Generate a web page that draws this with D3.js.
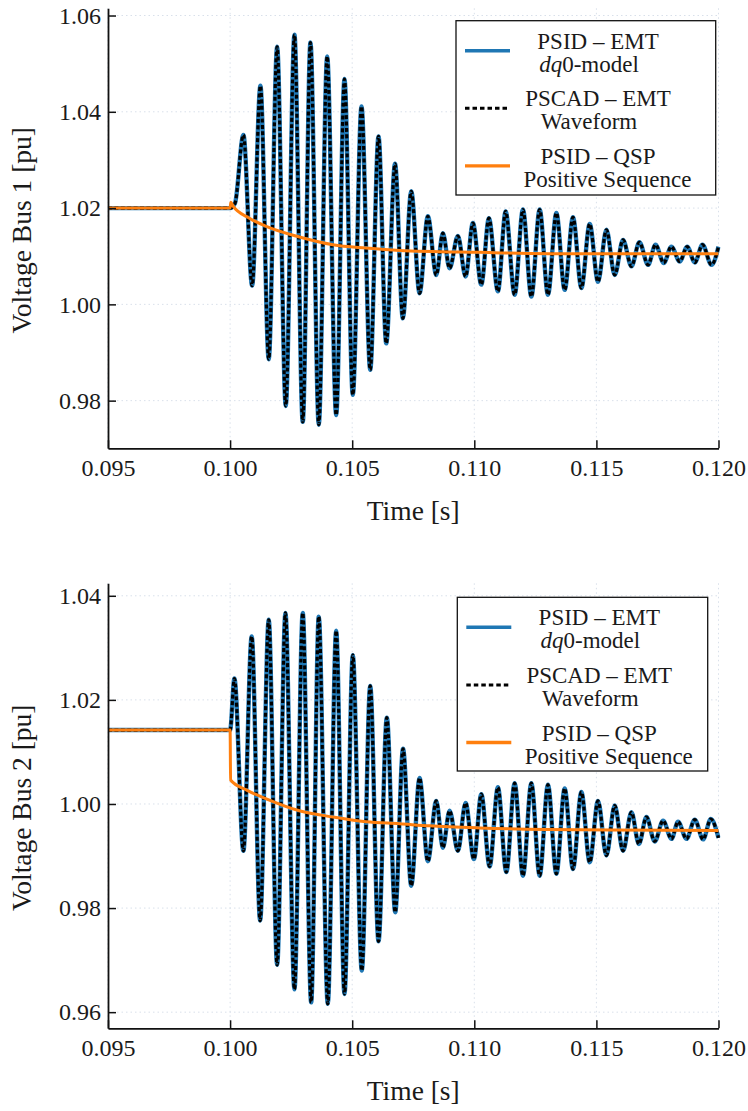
<!DOCTYPE html>
<html>
<head>
<meta charset="utf-8">
<script src="https://cdn.jsdelivr.net/npm/d3@7"></script>
<style>
    body { margin: 0; background: #fff; }
    svg { font-family: "Liberation Serif", "Times New Roman", serif; }
    .grid line { stroke: #d9e0ea; stroke-width: 1; stroke-dasharray: 1.5 3; }
    .axis path { stroke-width: 1.8; }
    .axis line { stroke-width: 1.5; }
    .axis text { font-family: "Liberation Serif", "Times New Roman", serif; font-size: 24px; fill: #1a1a1a; }
    .title { font-size: 27.5px; fill: #1a1a1a; }
    .legend text { font-size: 23px; fill: #1a1a1a; }
</style>
</head>
<body>
<div class="chart"></div>
<script>
var timeTicks = [0.095, 0.100, 0.105, 0.110, 0.115, 0.120]
var timeLimits = [0.095, 0.120]

var bus1Ticks = [0.98, 1.00, 1.02, 1.04, 1.06]
var bus1Limits = [0.9701, 1.0615]
var bus2Ticks = [0.96, 0.98, 1.00, 1.02, 1.04]
var bus2Limits = [0.9569, 1.0424]

// EMT waveform, read at every peak and trough (s, pu)
var bus1EmtTime = [0.09500, 0.10000, 0.10020,
    0.100545, 0.100902, 0.101242, 0.101582, 0.101926, 0.102279, 0.102635, 0.102975,
    0.103291, 0.103631, 0.103975, 0.104344, 0.104684, 0.105025, 0.105381, 0.105738,
    0.106078, 0.106393, 0.106754, 0.107074, 0.107418, 0.107758, 0.108098, 0.108443,
    0.108713, 0.108988, 0.109328, 0.109643, 0.109943, 0.110287, 0.110598, 0.110967,
    0.111283, 0.111652, 0.111992, 0.112336, 0.112676, 0.113016, 0.113361, 0.113701,
    0.114041, 0.114385, 0.114725, 0.115066, 0.115410, 0.115750, 0.116090, 0.116434,
    0.116760, 0.117115, 0.117420, 0.117760, 0.118070, 0.118414, 0.118720, 0.119029,
    0.119344, 0.119713, 0.120000]
var bus1EmtValue = [1.0200, 1.0200, 1.0210,
    1.0352, 1.0039, 1.0454, 0.9886, 1.0535, 0.9789, 1.0560, 0.9756,
    1.0544, 0.9750, 1.0515, 0.9770, 1.0468, 0.9812, 1.0411, 0.9864,
    1.0349, 0.9919, 1.0292, 0.9971, 1.0235, 1.0023, 1.0183, 1.0061,
    1.0148, 1.0075, 1.0142, 1.0058, 1.0169, 1.0041, 1.0179, 1.0027,
    1.0193, 1.0020, 1.0197, 1.0016, 1.0197, 1.0020, 1.0190, 1.0030,
    1.0181, 1.0034, 1.0167, 1.0047, 1.0155, 1.0061, 1.0134, 1.0079,
    1.0129, 1.0082, 1.0124, 1.0086, 1.0120, 1.0089, 1.0120, 1.0087,
    1.0124, 1.0082, 1.0120]

var bus1QspTime = [0.09500, 0.10000, 0.10003, 0.10011, 0.10079, 0.10148, 0.10284,
    0.10421, 0.10557, 0.10694, 0.11022, 0.11432, 0.12000]
var bus1QspValue = [1.0200, 1.0200, 1.0212, 1.0205, 1.0179, 1.0162, 1.0140,
    1.0124, 1.0117, 1.0112, 1.0108, 1.0105, 1.0105]

var bus2EmtTime = [0.09500, 0.10000,
    0.100176, 0.100545, 0.100885, 0.101230, 0.101582, 0.101926, 0.102266, 0.102635,
    0.102975, 0.103320, 0.103631, 0.104000, 0.104344, 0.104684, 0.105025, 0.105393,
    0.105738, 0.106078, 0.106418, 0.106762, 0.107082, 0.107418, 0.107758, 0.108098,
    0.108443, 0.108713, 0.108988, 0.109328, 0.109643, 0.109984, 0.110287, 0.110627,
    0.110967, 0.111311, 0.111652, 0.111992, 0.112336, 0.112676, 0.113016, 0.113361,
    0.113701, 0.114041, 0.114385, 0.114725, 0.115066, 0.115410, 0.115750, 0.116090,
    0.116434, 0.116740, 0.117049, 0.117389, 0.117730, 0.118074, 0.118344, 0.118689,
    0.119029, 0.119369, 0.119684, 0.120000]
var bus2EmtValue = [1.0142, 1.0142,
    1.0241, 0.9910, 1.0322, 0.9776, 1.0354, 0.9691, 1.0367, 0.9644,
    1.0367, 0.9619, 1.0360, 0.9616, 1.0333, 0.9635, 1.0286, 0.9680,
    1.0227, 0.9736, 1.0166, 0.9792, 1.0106, 0.9843, 1.0050, 0.9890,
    1.0006, 0.9916, 0.9987, 0.9910, 1.0002, 0.9894, 1.0019, 0.9880,
    1.0032, 0.9869, 1.0040, 0.9862, 1.0040, 0.9862, 1.0037, 0.9866,
    1.0030, 0.9875, 1.0023, 0.9888, 1.0006, 0.9901, 0.9997, 0.9910,
    0.9984, 0.9923, 0.9975, 0.9928, 0.9968, 0.9933, 0.9966, 0.9933,
    0.9970, 0.9932, 0.9971, 0.9935]

var bus2QspTime = [0.09500, 0.10000, 0.10002, 0.10066, 0.10148, 0.10284, 0.10421,
    0.10557, 0.10694, 0.10817, 0.11022, 0.11295, 0.11567, 0.12000]
var bus2QspValue = [1.0142, 1.0142, 1.0046, 1.0027, 1.0010, 0.9987, 0.9975,
    0.9966, 0.9962, 0.9958, 0.9954, 0.9951, 0.9950, 0.9949]

var seriesNames = ["PSID – EMT", "PSCAD – EMT", "PSID – QSP"]
var seriesNotes = ["dq0-model", "Waveform", "Positive Sequence"]
var seriesColors = ["#1f77b4", "#000000", "#ff7f0e"]
var yTitles = ["Voltage Bus 1 [pu]", "Voltage Bus 2 [pu]"]
var xTitle = "Time [s]"


!function(){

    var width = 748, height = 1111
    var left = 108, right = 718.5

    var svg = d3.select(".chart").append("svg")
        .attr("width", width)
        .attr("height", height)

    var panels = [
        { top: 8.3, bottom: 448.3, ticks: bus1Ticks, limits: bus1Limits,
          emt: zip(bus1EmtTime, bus1EmtValue), qsp: zip(bus1QspTime, bus1QspValue),
          title: yTitles[0], legend: { x: 456, y: 20.7, w: 259.7, h: 174.3 } },
        { top: 583.3, bottom: 1028.3, ticks: bus2Ticks, limits: bus2Limits,
          emt: zip(bus2EmtTime, bus2EmtValue), qsp: zip(bus2QspTime, bus2QspValue),
          title: yTitles[1], legend: { x: 457.3, y: 597.3, w: 250.4, h: 173.7 } }
    ]

    panels.forEach(drawPanel)


    function zip(ts, vs) {
        return ts.map(function(t, i) { return { t: t, v: vs[i] } })
    }

    function drawPanel(p, i) {

        var x = d3.scaleLinear().domain(timeLimits).range([left, right])
        var y = d3.scaleLinear().domain(p.limits).range([p.bottom, p.top])

        var layer = svg.append("g").attr("class", "panel")

        // dotted grid
        var grid = layer.append("g").attr("class", "grid")
        grid.selectAll(".gx").data(timeTicks).enter().append("line")
            .attr("x1", function(d) { return x(d) }).attr("x2", function(d) { return x(d) })
            .attr("y1", p.top).attr("y2", p.bottom)
        grid.selectAll(".gy").data(p.ticks).enter().append("line")
            .attr("y1", function(d) { return y(d) }).attr("y2", function(d) { return y(d) })
            .attr("x1", left).attr("x2", right)

        var clipId = "clip" + i
        layer.append("clipPath").attr("id", clipId)
            .append("rect")
            .attr("x", left).attr("y", p.top)
            .attr("width", right - left + 2).attr("height", p.bottom - p.top)

        var line = d3.line()
            .x(function(d) { return x(d.t) })
            .y(function(d) { return y(d.v) })
            .curve(d3.curveMonotoneX)

        var lines = layer.append("g").attr("clip-path", "url(#" + clipId + ")")

        lines.append("path")
            .datum(p.emt)
            .attr("d", line)
            .attr("fill", "none")
            .attr("stroke", seriesColors[0])
            .attr("stroke-width", 4.4)
            .attr("stroke-linejoin", "round")

        lines.append("path")
            .datum(p.emt)
            .attr("d", line)
            .attr("fill", "none")
            .attr("stroke", seriesColors[1])
            .attr("stroke-width", 3.2)
            .attr("stroke-dasharray", "4 2.4")

        lines.append("path")
            .datum(p.qsp)
            .attr("d", line)
            .attr("fill", "none")
            .attr("stroke", seriesColors[2])
            .attr("stroke-width", 3)
            .attr("stroke-linejoin", "round")

        drawAxis(layer, p, x, y)
        drawLegend(layer, p.legend)
    }

    function drawAxis(layer, p, x, y) {

        var yAxis = d3.axisLeft(y)
            .tickValues(p.ticks)
            .tickFormat(d3.format(".2f"))
            .tickSizeInner(-8)
            .tickSizeOuter(0)
            .tickPadding(7)

        layer.append("g")
            .attr("class", "axis y")
            .attr("transform", "translate(" + [left, 0] + ")")
            .style("color", "#111")
            .call(yAxis)

        var xAxis = d3.axisBottom(x)
            .tickValues(timeTicks)
            .tickFormat(d3.format(".3f"))
            .tickSizeInner(-8)
            .tickSizeOuter(0)
            .tickPadding(11)

        layer.append("g")
            .attr("class", "axis x")
            .attr("transform", "translate(" + [0, p.bottom] + ")")
            .style("color", "#111")
            .call(xAxis)

        layer.append("text")
            .attr("class", "title")
            .attr("x", (left + right) / 2)
            .attr("y", p.bottom + 71.5)
            .attr("text-anchor", "middle")
            .text(xTitle)

        layer.append("text")
            .attr("class", "title")
            .attr("transform", "translate(" + [31, (p.top + p.bottom) / 2 + 2] + ") rotate(-90)")
            .attr("text-anchor", "middle")
            .text(p.title)
    }

    function drawLegend(layer, box) {

        var g = layer.append("g")
            .attr("class", "legend")
            .attr("transform", "translate(" + [box.x, box.y] + ")")

        g.append("rect")
            .attr("width", box.w)
            .attr("height", box.h)
            .attr("fill", "#fff")
            .attr("stroke", "#111")
            .attr("stroke-width", 1.3)

        var rows = g.selectAll(".row")
            .data(seriesNames)
            .enter().append("g")
            .attr("class", "row")
            .attr("transform", function(d, i) { return "translate(0," + (30 + i * 57.6) + ")" })

        rows.append("line")
            .attr("x1", 9).attr("x2", 54)
            .attr("stroke", function(d, i) { return seriesColors[i] })
            .attr("stroke-width", function(d, i) { return i == 1 ? 3 : 3.4 })
            .attr("stroke-dasharray", function(d, i) { return i == 1 ? "4.5 3" : null })

        rows.append("text")
            .attr("x", 142)
            .attr("y", -2)
            .attr("text-anchor", "middle")
            .text(function(d) { return d })

        var notes = rows.append("text")
            .attr("x", function(d, i) { return i == 2 ? 151.5 : 133 })
            .attr("y", 21)
            .attr("text-anchor", "middle")

        // dq in the model name is set in italics
        notes.each(function(d, i) {
            var note = seriesNotes[i]
            var el = d3.select(this)
            if (note.indexOf("dq") == 0) {
                el.append("tspan").style("font-style", "italic").text("dq")
                el.append("tspan").text(note.slice(2))
            } else {
                el.text(note)
            }
        })
    }
}();
</script>
</body>
</html>
